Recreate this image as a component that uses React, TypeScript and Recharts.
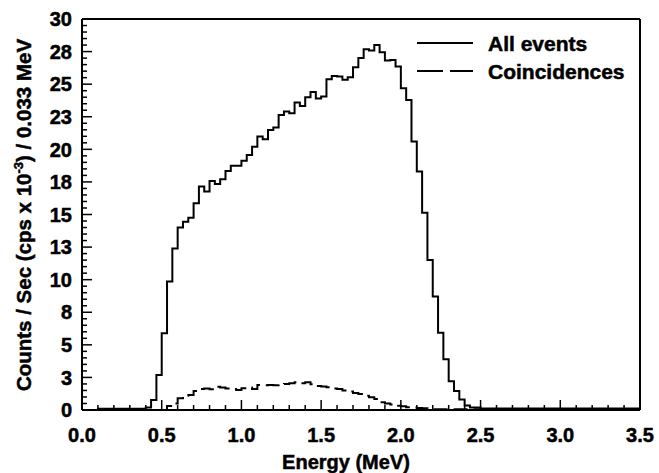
import { ComposedChart, Line, XAxis, YAxis, Legend, ReferenceLine } from 'recharts';

// histogram bin width in MeV
const BIN = 1 / 30;

// All events, one value per bin (cps x 10^-3), bins start at 0 MeV
const allEvents = [
  0, 0, 0, 0.1, 0.1, 0.1, 0.1, 0.1, 0.1, 0.1,
  0.1, 0.1, 0.2, 0.77, 2.69, 5.88, 9.85, 12.4, 14.0, 14.45,
  14.76, 15.86, 17.14, 16.76, 17.57, 17.34, 17.7, 18.34, 18.75, 18.75,
  19.13, 19.57, 20.2, 20.98, 20.77, 21.49, 21.67, 22.64, 22.9, 22.77,
  23.59, 23.33, 24.0, 24.4, 23.9, 24.05, 25.38, 25.63, 25.58, 25.33,
  25.53, 26.3, 27.0, 27.68, 27.58, 28.01, 27.45, 26.81, 26.86, 26.35,
  24.69, 23.79, 20.6, 18.29, 15.14, 11.51, 8.7, 5.93, 3.89, 2.2,
  1.45, 0.8, 0.35, 0.2, 0.2, 0.12, 0.12, 0.12, 0.12, 0.12,
  0.12, 0.12, 0.12, 0.12, 0.12, 0.12, 0.12, 0.12, 0.12, 0.12,
  0.12, 0.12, 0.12, 0.12, 0.12, 0.12, 0.12, 0.12, 0.12, 0.12,
  0.12, 0.12, 0.12, 0.12, 0.12,
];

// Coincidences, same bins
const coincidences = [
  0, 0, 0, 0, 0, 0, 0, 0, 0, 0,
  0, 0, 0, 0, 0, 0, 0.3, 0.5, 0.9, 1.1,
  1.15, 1.46, 1.61, 1.65, 1.6, 1.79, 1.72, 1.65, 1.61, 1.53,
  1.66, 1.72, 1.61, 1.92, 1.9, 1.92, 1.9, 1.97, 2.0, 2.05,
  2.12, 2.05, 2.12, 1.97, 1.84, 1.8, 1.74, 1.65, 1.61, 1.5,
  1.41, 1.3, 1.23, 1.1, 0.97, 0.84, 0.59, 0.5, 0.43, 0.33,
  0.28, 0.22, 0.2, 0.15, 0.13, 0.1, 0.05, 0.05, 0.05, 0.05,
  0.05, 0.05, 0.05, 0.05, 0.05, 0, 0, 0, 0, 0,
  0, 0, 0, 0, 0, 0, 0, 0, 0, 0,
  0, 0, 0, 0, 0, 0, 0, 0, 0, 0,
  0, 0, 0, 0, 0,
];

const xMajor = [0, 0.5, 1.0, 1.5, 2.0, 2.5, 3.0, 3.5];
const yMajor = [0, 2.5, 5, 7.5, 10, 12.5, 15, 17.5, 20, 22.5, 25, 27.5, 30];

const xTicks: number[] = [];
for (let i = 0; i <= 35; i++) xTicks.push(i / 10);
const yTicks: number[] = [];
for (let i = 0; i <= 60; i++) yTicks.push(i / 2);

const rows = allEvents.map((v, i) => ({ e: i * BIN, all: v, coin: coincidences[i] }));
rows.push({ e: 3.5, all: allEvents[allEvents.length - 1], coin: coincidences[coincidences.length - 1] });

const FONT = '"Liberation Sans", Arial, sans-serif';
// slight outline so the text reads as heavy as the original
const heavy = { fontWeight: 'bold' as const, fill: '#000', stroke: '#000', strokeWidth: 0.5 };

const isMajor = (v: number, list: number[]) => list.some((m) => Math.abs(m - v) < 1e-6);

const XTick = (props: any) => {
  const { x, y, payload } = props;
  const major = isMajor(payload.value, xMajor);
  return (
    <g>
      <line x1={x} x2={x} y1={y} y2={y - (major ? 10 : 5)} stroke="#000" strokeWidth={1.5} />
      {major && (
        <text x={x} y={y + 32} textAnchor="middle" fontSize={20} {...heavy}>
          {payload.value.toFixed(1)}
        </text>
      )}
    </g>
  );
};

const YTick = (props: any) => {
  const { x, y, payload } = props;
  const major = isMajor(payload.value, yMajor);
  return (
    <g>
      <line x1={x} x2={x + (major ? 10 : 5)} y1={y} y2={y} stroke="#000" strokeWidth={1.5} />
      {major && (
        <text x={x - 10} y={y} dy="0.36em" textAnchor="end" fontSize={20} {...heavy}>
          {Math.round(payload.value)}
        </text>
      )}
    </g>
  );
};

const XTitle = () => (
  <text x={346} y={469} textAnchor="middle" fontSize={20} {...heavy}>
    Energy (MeV)
  </text>
);

const YTitle = () => (
  <text x={31} y={215} transform="rotate(-90 31 215)" textAnchor="middle" fontSize={20.5} {...heavy}>
    Counts / Sec (cps x 10
    <tspan dy={-8} fontSize={13}>-3</tspan>
    <tspan dy={8}>) / 0.033 MeV</tspan>
  </text>
);

const renderLegend = () => (
  <svg width={245} height={56} style={{ fontFamily: FONT }}>
    <line x1={7} x2={63} y1={13} y2={13} stroke="#000" strokeWidth={2} />
    <text x={78} y={13} dy="0.36em" fontSize={21} {...heavy}>All events</text>
    <line x1={7} x2={63} y1={41} y2={41} stroke="#000" strokeWidth={2} strokeDasharray="26 7" />
    <text x={78} y={41} dy="0.36em" fontSize={21} {...heavy}>Coincidences</text>
  </svg>
);

export default function App() {
  return (
    <div style={{ position: 'absolute', left: 0, top: 0, width: 659, height: 473, background: '#fff', fontFamily: FONT }}>
      <ComposedChart width={659} height={473} data={rows} margin={{ top: 19, right: 19, left: 0, bottom: 0 }}>
        <XAxis
          dataKey="e"
          type="number"
          domain={[0, 3.5]}
          ticks={xTicks}
          interval={0}
          tickSize={0}
          tickMargin={0}
          tickLine={false}
          tick={<XTick />}
          height={63}
          axisLine={{ stroke: '#000', strokeWidth: 2 }}
          label={<XTitle />}
        />
        <YAxis
          type="number"
          domain={[0, 30]}
          ticks={yTicks}
          interval={0}
          tickSize={0}
          tickMargin={0}
          tickLine={false}
          tick={<YTick />}
          width={82}
          axisLine={{ stroke: '#000', strokeWidth: 2 }}
          label={<YTitle />}
        />
        <ReferenceLine y={30} stroke="#000" strokeWidth={2} />
        <ReferenceLine x={3.5} stroke="#000" strokeWidth={2} />
        <Legend
          layout="horizontal"
          verticalAlign="middle"
          align="center"
          wrapperStyle={{ top: 30, left: 410, width: 245 }}
          content={renderLegend}
        />
        <Line
          type="stepAfter"
          dataKey="all"
          name="All events"
          stroke="#000"
          strokeWidth={2}
          dot={false}
          activeDot={false}
          isAnimationActive={false}
        />
        <Line
          type="stepAfter"
          dataKey="coin"
          name="Coincidences"
          stroke="#000"
          strokeWidth={2}
          strokeDasharray="14 6"
          dot={false}
          activeDot={false}
          isAnimationActive={false}
        />
      </ComposedChart>
    </div>
  );
}
